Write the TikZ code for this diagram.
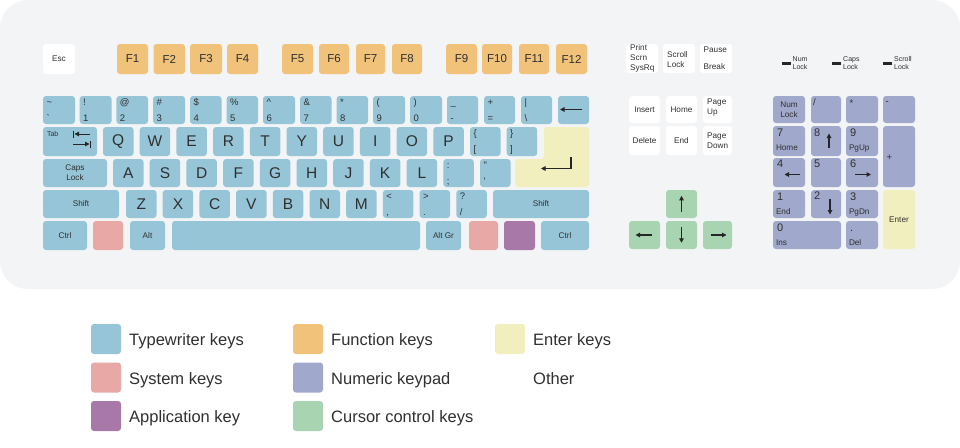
\documentclass[tikz,border=0pt]{standalone}
\usepackage{fontspec}
\setmainfont{Liberation Sans}
\usetikzlibrary{arrows.meta}
\definecolor{bodyc}{HTML}{F3F4F6}
\definecolor{tw}{HTML}{96C5D7}
\definecolor{fn}{HTML}{F0C27A}
\definecolor{en}{HTML}{F2EFBE}
\definecolor{sy}{HTML}{E8A8A5}
\definecolor{np}{HTML}{A0A8CB}
\definecolor{ap}{HTML}{A878A8}
\definecolor{cu}{HTML}{A8D4B1}
\definecolor{tx}{HTML}{303030}
% \kk[options]{name}{colour}{x1}{y1}{x2}{y2}{label}
\newcommand{\kk}[8][]{\node[keybox,fill=#3,#1,minimum width={(#6)-(#4)},minimum height={(#7)-(#5)}] (#2) at ({((#4)+(#6))/2},{((#5)+(#7))/2}) {#8};}
\newcommand{\tb}[3]{\node[smallc,anchor=base west] (#1-t) at ([shift={(3.5pt,-10pt)}]#1.north west) {#2};\node[smallc,anchor=base west] (#1-b) at ([shift={(3.5pt,-26pt)}]#1.north west) {#3};}
\newcommand{\npk}[3]{\node[npdig,anchor=base west] (#1-t) at ([shift={(4pt,-10.7pt)}]#1.north west) {#2};\node[npword,anchor=base west] (#1-b) at ([shift={(3pt,-25pt)}]#1.north west) {#3};}
\begin{document}
\begin{tikzpicture}[x=1pt,y=-1pt,
  keybox/.style={rectangle,rounded corners=3pt,draw=none,inner sep=0pt,text=tx,font=\fontsize{15.5}{15.5}\selectfont},
  fk/.style={font=\fontsize{11.5}{11.5}\selectfont},
  md/.style={font=\fontsize{8.2}{10}\selectfont,align=center},
  smallc/.style={inner sep=0pt,text=tx,font=\fontsize{9.5}{9.5}\selectfont},
  npdig/.style={inner sep=0pt,text=tx,font=\fontsize{11}{11}\selectfont},
  npword/.style={inner sep=0pt,text=tx,font=\fontsize{8.2}{8.2}\selectfont},
  lbl/.style={inner sep=0pt,text=tx,font=\fontsize{8.2}{10}\selectfont,align=left},
  led/.style={inner sep=0pt,text=tx,font=\fontsize{7}{8}\selectfont,align=left},
  arr/.style={draw=black!85,line width=1.1pt,-{Triangle[length=4.5pt,width=4.5pt]}},
  sw/.style={rectangle,rounded corners=3pt,draw=none,minimum size=30pt,inner sep=0pt},
  lt/.style={inner sep=0pt,anchor=base west,text=tx,font=\fontsize{16.5}{16.5}\selectfont}]
\useasboundingbox (0,0) rectangle (960,447);
\fill[white] (0,0) rectangle (960,447);
\fill[bodyc,rounded corners=28pt] (0,0) rectangle (960,289);

% ---- function row
\kk[md]{esc}{white}{43}{44}{75}{74}{Esc}
\kk[fk]{f1}{fn}{117}{44}{148}{74}{F1}
\kk[fk]{f2}{fn}{153.5}{44}{185}{74}{F2}
\kk[fk]{f3}{fn}{190}{44}{222}{74}{F3}
\kk[fk]{f4}{fn}{227}{44}{258}{74}{F4}
\kk[fk]{f5}{fn}{282}{44}{313}{74}{F5}
\kk[fk]{f6}{fn}{319}{44}{349}{74}{F6}
\kk[fk]{f7}{fn}{356}{44}{385}{74}{F7}
\kk[fk]{f8}{fn}{392}{44}{422}{74}{F8}
\kk[fk]{f9}{fn}{446}{44}{477}{74}{F9}
\kk[fk]{f10}{fn}{482}{44}{512}{74}{F10}
\kk[fk]{f11}{fn}{519}{44}{549}{74}{F11}
\kk[fk]{f12}{fn}{556}{44}{587}{74}{F12}

% ---- number row
\kk{n0}{tw}{43}{96}{75}{124}{}\tb{n0}{\textasciitilde}{\textasciigrave}
\kk{n1}{tw}{79.7}{96}{111.5}{124}{}\tb{n1}{!}{1}
\kk{n2}{tw}{116.4}{96}{148}{124}{}\tb{n2}{@}{2}
\kk{n3}{tw}{153}{96}{185}{124}{}\tb{n3}{\#}{3}
\kk{n4}{tw}{190}{96}{221.5}{124}{}\tb{n4}{\$}{4}
\kk{n5}{tw}{226.5}{96}{258}{124}{}\tb{n5}{\%}{5}
\kk{n6}{tw}{263}{96}{295}{124}{}\tb{n6}{\textasciicircum}{6}
\kk{n7}{tw}{300}{96}{331.5}{124}{}\tb{n7}{\&}{7}
\kk{n8}{tw}{336.5}{96}{368}{124}{}\tb{n8}{*}{8}
\kk{n9}{tw}{373}{96}{405}{124}{}\tb{n9}{(}{9}
\kk{n10}{tw}{410}{96}{442}{124}{}\tb{n10}{)}{0}
\kk{n11}{tw}{447}{96}{478}{124}{}\tb{n11}{\_}{-}
\kk{n12}{tw}{484}{96}{515}{124}{}\tb{n12}{+}{=}
\kk{n13}{tw}{521}{96}{552}{124}{}\tb{n13}{\textbar}{\textbackslash}
\kk{bs}{tw}{558}{96}{589}{124}{}
\coordinate (bsa) at (582,109.5); \coordinate (bsb) at (560,109.5);
\draw[arr,line width=1.3pt] (bsa) -- (bsb);

% ---- tab row
\kk{tab}{tw}{43}{127}{97}{156}{}
\node[inner sep=0pt,text=tx,font=\fontsize{7}{7}\selectfont,anchor=base west] (tabt) at ([shift={(4pt,-10pt)}]tab.north west) {Tab};
\coordinate (ta1) at (90,134); \coordinate (ta2) at (74.5,134);
\coordinate (tb1) at (73,144); \coordinate (tb2) at (89.5,144);
\draw[arr,line width=1pt] (ta1) -- (ta2);
\draw[line width=1pt,black!85] (73.5,130.5) -- (73.5,137.5);
\draw[arr,line width=1pt] (tb1) -- (tb2);
\draw[line width=1pt,black!85] (90.5,140.5) -- (90.5,147.5);
\foreach \l [count=\i from 0] in {Q,W,E,R,T,Y,U,I,O,P}
  {\kk{k\l}{tw}{103+36.7*\i}{127}{133.5+36.7*\i}{156}{\l}}
\kk{lbr}{tw}{470}{127}{500.5}{156}{}\tb{lbr}{\{}{[}
\kk{rbr}{tw}{506.7}{127}{537.2}{156}{}\tb{rbr}{\}}{]}

% ---- enter key
\fill[en,rounded corners=3pt] (544,127) -- (589,127) -- (589,187) -- (515,187) -- (515,159) -- (544,159) -- cycle;
\coordinate (ea) at (571,157); \coordinate (eb) at (571,168.5); \coordinate (ec) at (541,168.5);
\draw[arr,line width=1.2pt] (ea) -- (eb) -- (ec);

% ---- caps row
\kk[md]{caps}{tw}{43}{159}{107}{187}{Caps\\Lock}
\foreach \l [count=\i from 0] in {A,S,D,F,G,H,J,K,L}
  {\kk{k\l}{tw}{113+36.7*\i}{159}{143.5+36.7*\i}{187}{\l}}
\kk{semi}{tw}{443.3}{159}{473.8}{187}{}\tb{semi}{:}{;}
\kk{quot}{tw}{480}{159}{510.5}{187}{}\tb{quot}{\textquotedbl}{\textquotesingle}

% ---- shift row
\kk[md]{lsh}{tw}{43}{190}{119}{218}{Shift}
\foreach \l [count=\i from 0] in {Z,X,C,V,B,N,M}
  {\kk{k\l}{tw}{126+36.7*\i}{190}{156.5+36.7*\i}{218}{\l}}
\kk{lt}{tw}{382.9}{190}{413.4}{218}{}\tb{lt}{<}{,}
\kk{gt}{tw}{419.6}{190}{450.1}{218}{}\tb{gt}{>}{.}
\kk{qm}{tw}{456.3}{190}{486.8}{218}{}\tb{qm}{?}{/}
\kk[md]{rsh}{tw}{493}{190}{589}{218}{Shift}

% ---- bottom row
\kk[md]{lctrl}{tw}{43}{221}{87}{250}{Ctrl}
\kk{lwin}{sy}{93}{221}{123}{250}{}
\kk[md]{alt}{tw}{130}{221}{165}{250}{Alt}
\kk{space}{tw}{172}{221}{420}{250}{}
\kk[md]{altgr}{tw}{426}{221}{461}{250}{Alt Gr}
\kk{rwin}{sy}{469}{221}{498}{250}{}
\kk{menu}{ap}{504}{221}{535}{250}{}
\kk[md]{rctrl}{tw}{541}{221}{589}{250}{Ctrl}

% ---- system / navigation keys
\kk{prt}{white}{626}{44}{658}{73}{}
\node[lbl,anchor=west] (prtt) at (630,58) {Print\\Scrn\\SysRq};
\kk{scr}{white}{663}{44}{695}{73}{}
\node[lbl,anchor=west,font=\fontsize{8.2}{9.5}\selectfont] (scrt) at (667,59.5) {Scroll\\Lock};
\kk{pau}{white}{700}{44}{732}{73}{}
\node[lbl,anchor=west] (paut) at (703.5,50) {Pause};
\node[lbl,anchor=west] (paub) at (703.5,67) {Break};
\kk[md]{ins}{white}{629}{96}{660}{123}{Insert}
\kk[md]{home}{white}{666}{96}{697}{123}{Home}
\kk{pgup}{white}{703}{96}{732}{123}{}
\node[lbl,anchor=west] (pgupt) at (707,108) {Page\\Up};
\kk[md]{del}{white}{629}{126}{660}{155}{Delete}
\kk[md]{end}{white}{666}{126}{697}{155}{End}
\kk{pgdn}{white}{703}{126}{732}{155}{}
\node[lbl,anchor=west] (pgdnt) at (707,141) {Page\\Down};

% ---- cursor keys
\kk{up}{cu}{666}{190}{697}{218}{}
\kk{left}{cu}{629}{221}{660}{249}{}
\kk{down}{cu}{666}{221}{697}{249}{}
\kk{right}{cu}{703}{221}{732}{249}{}
\draw[arr] ([yshift=-22pt]up.north) -- ([yshift=-6pt]up.north);
\draw[arr] ([xshift=7pt]left.center) -- ([xshift=-9pt]left.center);
\draw[arr] ([yshift=-6pt]down.north) -- ([yshift=-22pt]down.north);
\draw[arr] ([xshift=-7pt]right.center) -- ([xshift=9pt]right.center);

% ---- LEDs
\fill[black!85] (782,62) rectangle (791,65);
\node[led,anchor=west] (led1) at (792.5,63) {Num\\Lock};
\fill[black!85] (832,62) rectangle (841,65);
\node[led,anchor=west] (led2) at (843,63) {Caps\\Lock};
\fill[black!85] (883,62) rectangle (892,65);
\node[led,anchor=west] (led3) at (894,63) {Scroll\\Lock};

% ---- numeric keypad
\kk[md,font=\fontsize{8.2}{9.5}\selectfont]{numl}{np}{773}{96}{805}{123}{Num\\Lock}
\kk{div}{np}{811}{96}{841}{123}{}
\node[smallc,anchor=base west] (divt) at (813,105) {/};
\kk{mul}{np}{846}{96}{878}{123}{}
\node[smallc,anchor=base west] (mult) at (849.5,106.5) {*};
\kk{sub}{np}{883}{96}{915}{123}{}
\node[smallc,anchor=base west] (subt) at (885.5,104) {-};
\kk{p7}{np}{773}{126}{805}{156}{}\npk{p7}{7}{Home}
\kk{p8}{np}{811}{126}{841}{156}{}\node[npdig,anchor=base west] (p8t) at ([shift={(3pt,-10.7pt)}]p8.north west) {8};
\kk{p9}{np}{846}{126}{878}{156}{}\npk{p9}{9}{PgUp}
\kk{add}{np}{883}{126}{915}{187}{}
\node[smallc] (addt) at (889.5,157.5) {+};
\kk{p4}{np}{773}{158}{805}{187}{}\node[npdig,anchor=base west] (p4t) at ([shift={(4pt,-10pt)}]p4.north west) {4};
\kk{p5}{np}{811}{158}{841}{187}{}\node[npdig,anchor=base west] (p5t) at ([shift={(3pt,-10pt)}]p5.north west) {5};
\kk{p6}{np}{846}{158}{878}{187}{}\node[npdig,anchor=base west] (p6t) at ([shift={(4pt,-10pt)}]p6.north west) {6};
\kk{p1}{np}{773}{190}{805}{218}{}\npk{p1}{1}{End}
\kk{p2}{np}{811}{190}{841}{218}{}\node[npdig,anchor=base west] (p2t) at ([shift={(3pt,-10pt)}]p2.north west) {2};
\kk{p3}{np}{846}{190}{878}{218}{}\npk{p3}{3}{PgDn}
\kk[md]{pent}{en}{883}{190}{915}{249}{Enter}
\kk{p0}{np}{773}{221}{841}{249}{}\npk{p0}{0}{Ins}
\kk{pdot}{np}{846}{221}{878}{249}{}\npk{pdot}{.}{Del}
\coordinate (a8a) at (829,148); \coordinate (a8b) at (829,133.5);
\draw[arr] (a8a) -- (a8b);
\coordinate (a4a) at (799.5,174.5); \coordinate (a4b) at (784.5,174.5);
\draw[arr] (a4a) -- (a4b);
\coordinate (a6a) at (855,174.5); \coordinate (a6b) at (871,174.5);
\draw[arr] (a6a) -- (a6b);
\coordinate (a2a) at (830,199); \coordinate (a2b) at (830,214.5);
\draw[arr] (a2a) -- (a2b);

% ---- legend
\node[sw,fill=tw] (s1) at (106,339) {};   \node[lt] (t1) at (129,345.5) {Typewriter keys};
\node[sw,fill=sy] (s2) at (106,377.5) {}; \node[lt] (t2) at (129,384) {System keys};
\node[sw,fill=ap] (s3) at (106,416) {};   \node[lt] (t3) at (129,422.5) {Application key};
\node[sw,fill=fn] (s4) at (308,339) {};   \node[lt] (t4) at (331,345.5) {Function keys};
\node[sw,fill=np] (s5) at (308,377.5) {}; \node[lt] (t5) at (331,384) {Numeric keypad};
\node[sw,fill=cu] (s6) at (308,416) {};   \node[lt] (t6) at (331,422.5) {Cursor control keys};
\node[sw,fill=en] (s7) at (510,339) {};   \node[lt] (t7) at (533,345.5) {Enter keys};
\node[sw,fill=white] (s8) at (510,377.5) {}; \node[lt] (t8) at (533,384) {Other};
\end{tikzpicture}
\end{document}
